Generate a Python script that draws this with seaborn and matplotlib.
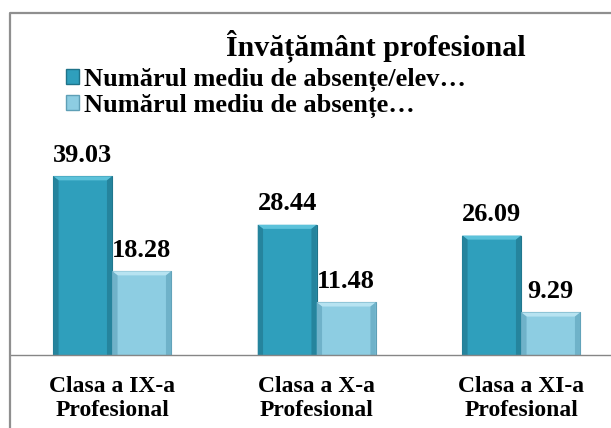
import matplotlib
matplotlib.use("Agg")
import matplotlib.pyplot as plt
from matplotlib.patches import Patch, Polygon
from matplotlib.lines import Line2D
import seaborn as sns
import pandas as pd

# Chart data
categories = ["Clasa a IX-a\nProfesional", "Clasa a X-a\nProfesional", "Clasa a XI-a\nProfesional"]
series_names = ["Numărul mediu de absențe/elev…", "Numărul mediu de absențe…"]
absente_elev = [39.03, 28.44, 26.09]
absente_nemotivate = [18.28, 11.48, 9.29]
title_text = "Învățământ profesional"

dark_face, dark_edge, dark_top, dark_side = "#2f9fbc", "#1f7389", "#5cc2da", "#25849d"
light_face, light_edge, light_top, light_side = "#8dcde2", "#5e9fb6", "#b7e3f1", "#6fb2c9"

df = pd.DataFrame({
    "Clasa": categories * 2,
    "Serie": [series_names[0]] * 3 + [series_names[1]] * 3,
    "Valoare": absente_elev + absente_nemotivate,
})

sns.set_theme(style="white")
plt.rcParams["font.family"] = ["Liberation Serif", "DejaVu Serif"]
plt.rcParams["font.weight"] = "bold"
plt.rcParams["text.color"] = "black"
plt.rcParams["xtick.color"] = "black"

W, H = 611, 428
fig = plt.figure(figsize=(W / 100, H / 100), dpi=100)
ax = fig.add_axes([10 / W, (H - 355) / H, (W - 10) / W, 342 / H])

sns.barplot(data=df, x="Clasa", y="Valoare", hue="Serie", order=categories,
            hue_order=series_names, palette=[dark_face, light_face],
            width=0.577, gap=0, legend=False, ax=ax, saturation=1)

ax.set_xlim(-0.5, -0.5 + (W - 10) / 204.5)
ax.set_ylim(0, 342 / 4.58)

# bevelled look for each bar
styles = [(dark_edge, dark_top, dark_side), (light_edge, light_top, light_side)]
for cont, (edge, top, side) in zip(ax.containers, styles):
    for p in cont:
        p.set_edgecolor(edge)
        p.set_linewidth(0.8)
        x0, w, h = p.get_x(), p.get_width(), p.get_height()
        bx = w * 0.09
        by = 0.9
        x1 = x0 + w
        z = p.get_zorder() + 0.1
        ax.add_patch(Polygon([(x0, h), (x1, h), (x1 - bx, h - by), (x0 + bx, h - by)],
                             closed=True, facecolor=top, edgecolor="none", zorder=z))
        ax.add_patch(Polygon([(x0, 0), (x0, h), (x0 + bx, h - by), (x0 + bx, 0)],
                             closed=True, facecolor=side, edgecolor="none", zorder=z))
        ax.add_patch(Polygon([(x1, 0), (x1, h), (x1 - bx, h - by), (x1 - bx, 0)],
                             closed=True, facecolor=side, edgecolor="none", zorder=z))
    ax.bar_label(cont, fmt="%.2f", padding=7, fontsize=19, fontweight="bold",
                 color="black", family="Liberation Serif")

ax.set_xlabel("")
ax.set_ylabel("")
ax.set_yticks([])
for s in ["left", "top", "right"]:
    ax.spines[s].set_visible(False)
ax.spines["bottom"].set_color("#868686")
ax.spines["bottom"].set_linewidth(1.0)

ax.set_xticks(range(len(categories)))
ax.set_xticklabels(categories, fontsize=17, fontweight="bold", linespacing=1.2, color="black")
ax.set_xticks([0.5, 1.5], minor=True)
ax.tick_params(axis="x", which="major", length=0, pad=15)
ax.tick_params(axis="x", which="minor", length=6, width=1, color="#868686", direction="out")

# Legend
handles = [Patch(facecolor=dark_face, edgecolor=dark_edge),
           Patch(facecolor=light_face, edgecolor=light_edge)]
ax.legend(handles, series_names, loc="upper left", bbox_to_anchor=(66 / W, 1 - 68 / H),
          bbox_transform=fig.transFigure, frameon=False, borderpad=0, borderaxespad=0,
          handlelength=0.5, handleheight=0.5, handletextpad=0.2, labelspacing=0.05,
          prop={"family": "Liberation Serif", "weight": "bold", "size": 19})

# Title
fig.text(376 / W, 1 - 56 / H, title_text, ha="center", va="baseline",
         fontsize=21.5, fontweight="bold", family="Liberation Serif")

# Chart frame
fig.add_artist(Line2D([10 / W, 10 / W, 1.0], [0.0, 1 - 13 / H, 1 - 13 / H],
                      transform=fig.transFigure, color="#8f8f8f", lw=1.6))

fig.savefig("out.png", dpi=100, facecolor="white")
